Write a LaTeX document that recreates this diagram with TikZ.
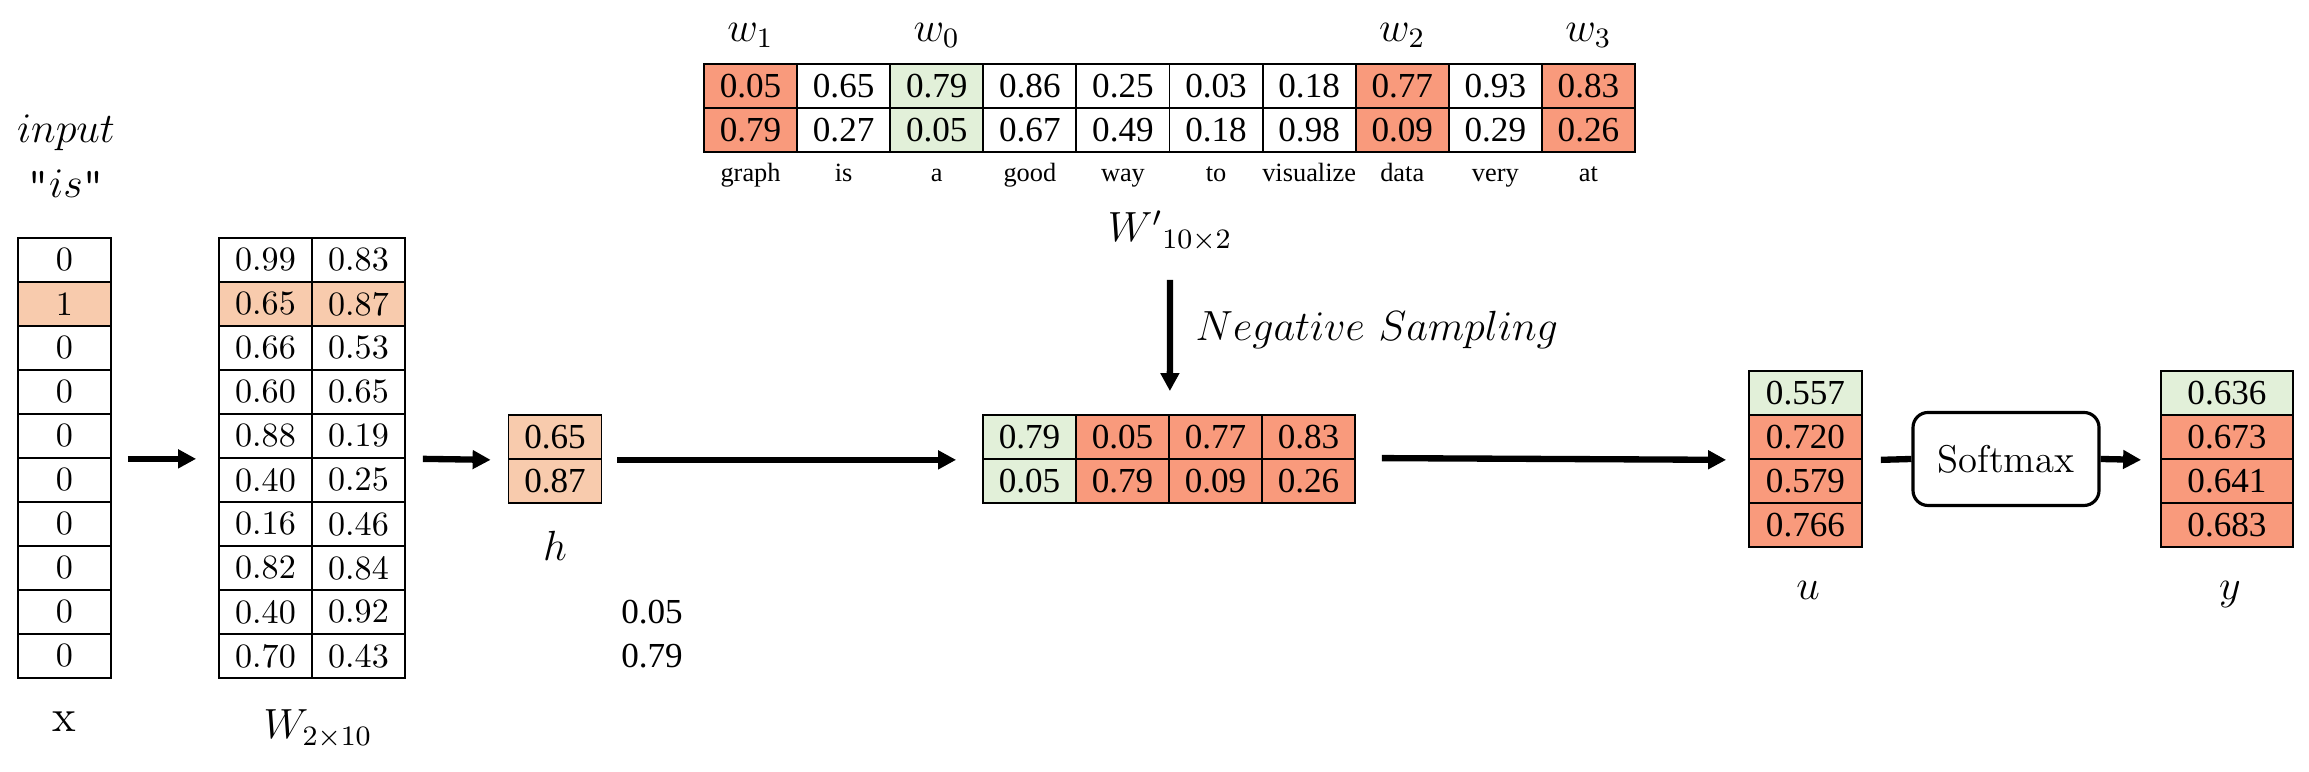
\documentclass[tikz,border=0pt]{standalone}
\usepackage{fontspec}
\newfontfamily\tnr{Liberation Serif}
\usetikzlibrary{arrows.meta,positioning}
\definecolor{peach}{HTML}{F8CBAD}
\definecolor{salmon}{HTML}{F99A7C}
\definecolor{mint}{HTML}{E2F0D9}
\tikzset{
  cellbox/.style={draw, line width=0.5pt, minimum width=0.93cm, minimum height=0.44cm, inner sep=0pt, font=\fontsize{9.7}{11}\selectfont},
  tcell/.style={cellbox, font=\tnr\fontsize{10}{12}\selectfont},
  wordlbl/.style={inner sep=0pt, font=\tnr\fontsize{7.5}{9}\selectfont},
  lbl/.style={inner sep=0pt, font=\fontsize{12}{14}\selectfont},
  flow/.style={line width=1.8pt, -{Triangle[length=0.18cm,width=0.18cm]}},
}
\begin{document}
\begin{tikzpicture}
\useasboundingbox (0,0) rectangle (23.09,7.72);

% one-hot input
\node[lbl, anchor=base] (inp) at (0.66,6.29) {$input$};
\node[lbl, anchor=base] (word) at (0.66,5.74) {{\ttfamily"}$is${\ttfamily"}};
\foreach \v/\c [count=\i] in {0/white,1/peach,0/white,0/white,0/white,0/white,0/white,0/white,0/white,0/white}
  \node[cellbox, fill=\c] (x\i) at (0.645,5.56-0.44*\i) {\v};
\node[inner sep=0pt, font=\fontsize{13}{15}\selectfont, anchor=base] (xlab) at (0.645,0.40) {x};

% input weights
\foreach \a/\b/\c [count=\i] in {0.99/0.83/white,0.65/0.87/peach,0.66/0.53/white,0.60/0.65/white,0.88/0.19/white,0.40/0.25/white,0.16/0.46/white,0.82/0.84/white,0.40/0.92/white,0.70/0.43/white}{
  \node[cellbox, fill=\c] (wa\i) at (2.655,5.56-0.44*\i) {\a};
  \node[cellbox, fill=\c] (wb\i) at (3.585,5.56-0.44*\i) {\b};
}
\node[lbl, anchor=base] (wlab) at (3.18,0.33) {$W_{2\times10}$};

% hidden layer
\node[tcell, fill=peach] (h1) at (5.55,3.35) {0.65};
\node[tcell, fill=peach] (h2) at (5.55,2.91) {0.87};
\node[lbl, anchor=base] (hlab) at (5.55,2.11) {$h$};
\node[wordlbl, font=\tnr\fontsize{10}{12}\selectfont] (f1) at (6.52,1.60) {0.05};
\node[wordlbl, font=\tnr\fontsize{10}{12}\selectfont] (f2) at (6.52,1.16) {0.79};

% output weights
\foreach \a/\b/\t/\c [count=\i] in {0.05/0.79/graph/salmon,0.65/0.27/is/white,0.79/0.05/a/mint,0.86/0.67/good/white,0.25/0.49/way/white,0.03/0.18/to/white,0.18/0.98/visualize/white,0.77/0.09/data/salmon,0.93/0.29/very/white,0.83/0.26/at/salmon}{
  \node[tcell, fill=\c] (pa\i) at (6.5745+0.931*\i,6.86) {\a};
  \node[tcell, fill=\c] (pb\i) at (6.5745+0.931*\i,6.42) {\b};
  \node[wordlbl, anchor=base] (t\i) at (6.5745+0.931*\i,5.90) {\t};
}
\foreach \k/\j in {1/1,3/0,8/2,10/3}
  \node[lbl, anchor=base] (wl\k) at ([yshift=0.22cm]pa\k.north) {$w_\j$};
\node[lbl, anchor=base] (wplab) at (11.70,5.30) {${W'}_{10\times2}$};

% sampled columns
\foreach \a/\b/\c [count=\i] in {0.79/0.05/mint,0.05/0.79/salmon,0.77/0.09/salmon,0.83/0.26/salmon}{
  \node[tcell, fill=\c] (ma\i) at (9.365+0.93*\i,3.35) {\a};
  \node[tcell, fill=\c] (mb\i) at (9.365+0.93*\i,2.91) {\b};
}
\coordinate (ns) at (11.70,4.92);
\draw[flow] (ns) -- ([yshift=0.23cm]ma2.north east);
\node[lbl, anchor=west] (neg) at (11.95,4.42) {$Negative\ Sampling$};

% scores and softmax
\foreach \v/\c [count=\i] in {0.557/mint,0.720/salmon,0.579/salmon,0.766/salmon}
  \node[tcell, fill=\c, minimum width=1.13cm] (u\i) at (18.055,4.23-0.44*\i) {\v};
\node[lbl, anchor=base] (ulab) at (18.08,1.72) {$u$};
\node[draw, rounded corners=0.15cm, line width=0.9pt, minimum width=1.86cm, minimum height=0.93cm, font=\fontsize{11}{13}\selectfont] (soft) at (20.06,3.13) {Softmax};
\foreach \v/\c [count=\i] in {0.636/mint,0.673/salmon,0.641/salmon,0.683/salmon}
  \node[tcell, fill=\c, minimum width=1.32cm] (y\i) at (22.27,4.23-0.44*\i) {\v};
\node[lbl, anchor=base] (ylab) at (22.30,1.72) {$y$};

\draw[flow] ([xshift=0.16cm]x5.south east) -- ([xshift=-0.22cm]wa5.south west);
\draw[flow] ([xshift=0.17cm]wb5.south east) -- ([xshift=-0.17cm]h1.south west);
\draw[flow] ([xshift=0.15cm]h1.south east) -- ([xshift=-0.26cm]ma1.south west);
\draw[flow] ([xshift=0.26cm]mb4.north east) -- ([xshift=-0.22cm]u2.south west);
\draw[line width=1.8pt] ([xshift=0.18cm]u2.south east) -- (soft.west);
\draw[flow] (soft.east) -- ([xshift=-0.19cm]y2.south west);
\end{tikzpicture}
\end{document}
